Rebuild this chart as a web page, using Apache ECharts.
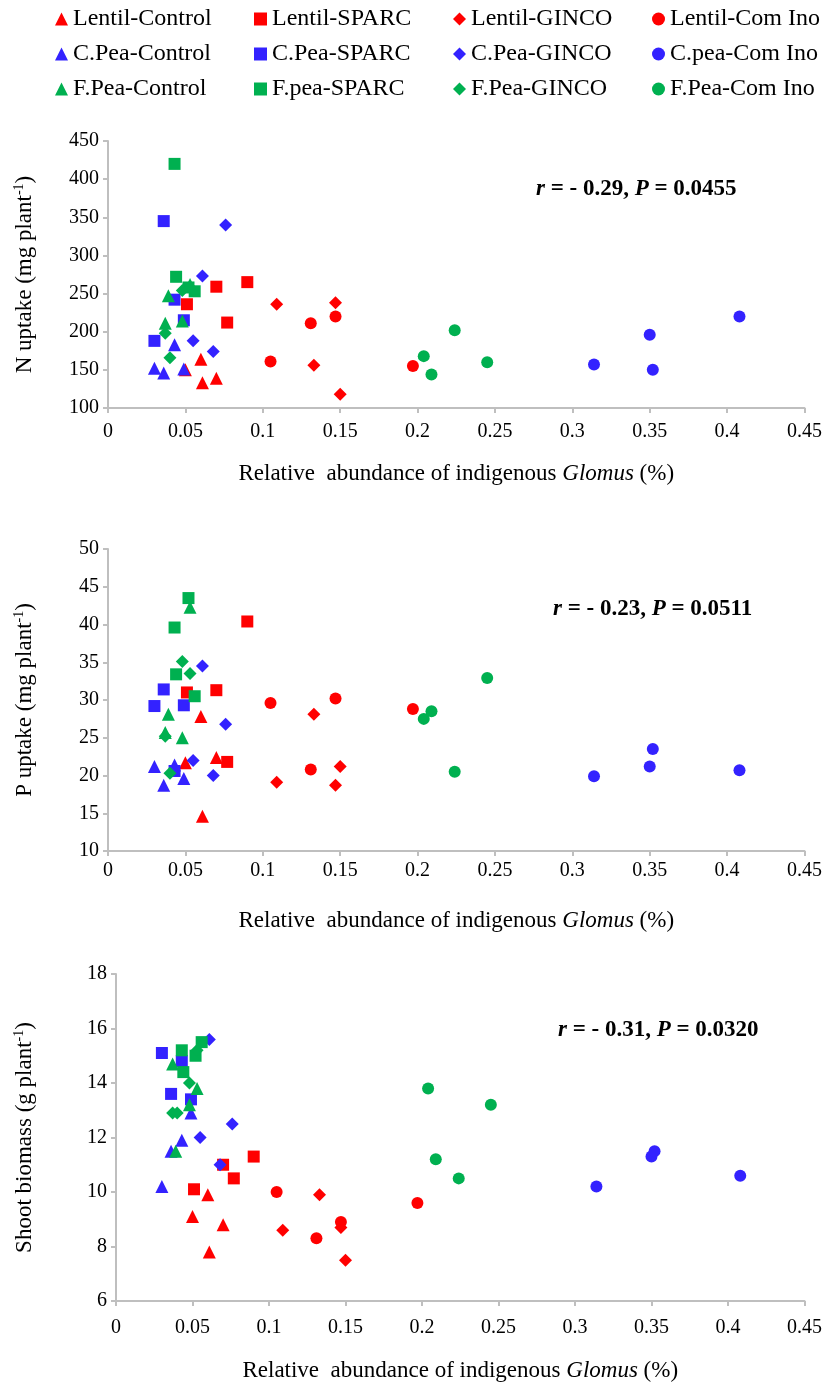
<!DOCTYPE html>
<html><head><meta charset="utf-8">
<script src="https://cdn.jsdelivr.net/npm/echarts@6/dist/echarts.min.js"></script>
<style>html,body{margin:0;padding:0;background:#fff}#c{width:825px;height:1389px}</style>
</head><body><div id="c"></div>
<script>
const seriesNames = ['Lentil-Control','Lentil-SPARC','Lentil-GINCO','Lentil-Com Ino',
  'C.Pea-Control','C.Pea-SPARC','C.Pea-GINCO','C.pea-Com Ino',
  'F.Pea-Control','F.pea-SPARC','F.Pea-GINCO','F.Pea-Com Ino'];
const seriesSymbols = ['triangle','rect','diamond','circle','triangle','rect','diamond','circle','triangle','rect','diamond','circle'];
const seriesColors = ['#FF0000','#FF0000','#FF0000','#FF0000','#3322FF','#3322FF','#3322FF','#3322FF','#00B050','#00B050','#00B050','#00B050'];

// relative abundance of indigenous Glomus (%), per series (4 replicates)
const xAbundance = [
  [0.050, 0.060, 0.061, 0.070],
  [0.051, 0.070, 0.077, 0.090],
  [0.109, 0.133, 0.147, 0.150],
  [0.105, 0.131, 0.147, 0.197],
  [0.030, 0.036, 0.043, 0.049],
  [0.030, 0.036, 0.043, 0.049],
  [0.055, 0.061, 0.068, 0.076],
  [0.314, 0.350, 0.352, 0.408],
  [0.037, 0.039, 0.048, 0.053],
  [0.043, 0.044, 0.052, 0.056],
  [0.037, 0.040, 0.048, 0.053],
  [0.204, 0.209, 0.224, 0.245]
];
// N uptake (mg plant-1)
const nUptake = [
  [150, 164, 133, 139],
  [236, 259, 212, 265],
  [236, 156, 238, 118],
  [161, 211, 220, 155],
  [152, 146, 183, 151],
  [188, 345, 242, 215],
  [188, 273, 174, 340],
  [157, 196, 150, 220],
  [211, 247, 214, 262],
  [420, 272, 258, 253],
  [198, 166, 254, 258],
  [168, 144, 202, 160]
];
// P uptake (mg plant-1)
const pUptake = [
  [21.7, 27.8, 14.6, 22.4],
  [31.0, 31.3, 21.8, 40.4],
  [19.1, 28.1, 18.7, 21.2],
  [29.6, 20.8, 30.2, 28.8],
  [21.2, 18.7, 21.4, 19.6],
  [29.2, 31.4, 20.6, 29.3],
  [22.0, 34.5, 20.0, 26.8],
  [19.9, 21.2, 23.5, 20.7],
  [25.7, 28.1, 25.0, 42.3],
  [39.6, 33.4, 43.5, 30.5],
  [25.2, 20.3, 35.1, 33.5],
  [27.5, 28.5, 20.5, 32.9]
];
// Shoot biomass (g plant-1)
const shootBiomass = [
  [9.1, 9.9, 7.8, 8.8],
  [10.1, 11.0, 10.5, 11.3],
  [8.6, 9.9, 8.7, 7.5],
  [10.0, 8.3, 8.9, 9.6],
  [10.2, 11.5, 11.9, 12.9],
  [15.1, 13.6, 14.8, 13.4],
  [12.0, 15.6, 11.0, 12.5],
  [10.2, 11.3, 11.5, 10.6],
  [14.7, 11.5, 13.2, 13.8],
  [15.2, 14.4, 15.0, 15.5],
  [12.9, 12.9, 14.0, 15.2],
  [13.8, 11.2, 10.5, 13.2]
];
const yTitles = [['N uptake (mg plant', ')'], ['P uptake (mg plant', ')'], ['Shoot biomass (g plant', ')']];
const yRanges = [[100, 450, 50], [10, 50, 5], [6, 18, 2]];
const stats = [['- 0.29', '0.0455'], ['- 0.23', '0.0511'], ['- 0.31', '0.0320']];

const FONT = '"Liberation Serif", "Times New Roman", serif';
const AXC = '#BFBFBF';
const grids = [
  {left: 108, right: 19, top: 141, height: 267},
  {left: 108, right: 19, top: 549, height: 302},
  {left: 116, right: 14, top: 974, height: 327}
];
const yNameGaps = [70, 70, 78];
const xNameGaps = [54, 58, 58];
const xLabelMargins = [14, 10, 17];
const statPos = [[536, 178], [553, 598], [558, 1019]];
const symSize = {triangle: 13, rect: 12, diamond: 13, circle: 12};

const datasets = [nUptake, pUptake, shootBiomass];
const xAxes = [], yAxes = [], series = [], titles = [];
datasets.forEach((ys, ci) => {
  xAxes.push({
    type: 'value', gridIndex: ci, min: 0, max: 0.45, interval: 0.05,
    axisLine: {show: true, onZero: false, lineStyle: {color: AXC, width: 2}},
    axisTick: {show: true, length: 5, lineStyle: {color: AXC, width: 2}},
    splitLine: {show: false},
    axisLabel: {color: '#000', fontFamily: FONT, fontSize: 20, margin: xLabelMargins[ci]},
    name: '{a|Relative  abundance of indigenous }{i|Glomus}{a| (%)}',
    nameLocation: 'middle', nameGap: xNameGaps[ci],
    nameTextStyle: {rich: {
      a: {fontFamily: FONT, fontSize: 23, color: '#000'},
      i: {fontFamily: FONT, fontSize: 23, color: '#000', fontStyle: 'italic'}
    }}
  });
  yAxes.push({
    type: 'value', gridIndex: ci, min: yRanges[ci][0], max: yRanges[ci][1], interval: yRanges[ci][2],
    axisLine: {show: true, lineStyle: {color: AXC, width: 2}},
    axisTick: {show: true, length: 5, lineStyle: {color: AXC, width: 2}},
    splitLine: {show: false},
    axisLabel: {color: '#000', fontFamily: FONT, fontSize: 20, margin: 9},
    name: '{a|' + yTitles[ci][0] + '}{s|-1}{a|' + yTitles[ci][1] + '}',
    nameLocation: 'middle', nameRotate: 90, nameGap: yNameGaps[ci],
    nameTextStyle: {rich: {
      a: {fontFamily: FONT, fontSize: 23, color: '#000', lineHeight: 26},
      s: {fontFamily: FONT, fontSize: 14, color: '#000', verticalAlign: 'top', lineHeight: 14}
    }}
  });
  titles.push({
    left: statPos[ci][0], top: statPos[ci][1], padding: 0,
    text: '{i|r}{b| = ' + stats[ci][0] + ', }{i|P}{b| = ' + stats[ci][1] + '}',
    textStyle: {rich: {
      b: {fontFamily: FONT, fontSize: 23, fontWeight: 'bold', color: '#000'},
      i: {fontFamily: FONT, fontSize: 23, fontWeight: 'bold', fontStyle: 'italic', color: '#000'}
    }}
  });
  seriesNames.forEach((name, si) => {
    series.push({
      type: 'scatter', name: name, xAxisIndex: ci, yAxisIndex: ci,
      symbol: seriesSymbols[si], symbolSize: symSize[seriesSymbols[si]],
      itemStyle: {color: seriesColors[si], opacity: 1},
      emphasis: {disabled: true},
      data: xAbundance[si].map((x, k) => [x, ys[si][k]])
    });
  });
});

const chart = echarts.init(document.getElementById('c'), null, {renderer: 'canvas'});
chart.setOption({
  animation: false,
  backgroundColor: '#fff',
  title: titles,
  legend: {
    data: seriesNames, left: 55, top: 7, width: 800, padding: 0,
    itemWidth: 13, itemHeight: 13, itemGap: 11, selectedMode: false,
    textStyle: {fontFamily: FONT, fontSize: 24, color: '#000', width: 170, lineHeight: 22}
  },
  grid: grids,
  xAxis: xAxes,
  yAxis: yAxes,
  series: series
});
</script></body></html>
